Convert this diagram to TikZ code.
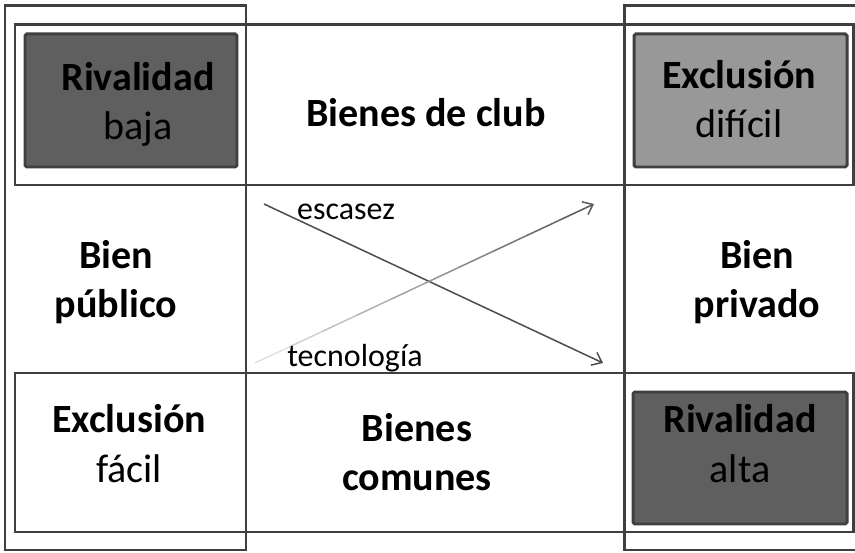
\documentclass[tikz,border=0pt]{standalone}
\usepackage{fontspec}
\setmainfont{Carlito}
\usetikzlibrary{positioning,calc,arrows.meta}
\definecolor{frameGray}{HTML}{3F3F3F}
\definecolor{darkFill}{HTML}{5F5F5F}
\definecolor{lightFill}{HTML}{989898}
\tikzset{
  frame/.style={draw=frameGray,line width=1.7pt},
  greybox/.style={draw=frameGray,line width=1.7pt,rounded corners=1pt},
  big/.style={font=\fontsize{22.8}{27.9}\selectfont,align=center,anchor=base},
  small/.style={font=\fontsize{18.2}{22}\selectfont,anchor=base},
  trend/.style={line width=0.85pt,-{Straight Barb[length=5pt,width=8pt]}},
}
\begin{document}
\begin{tikzpicture}[x=0.02cm,y=-0.02cm]
  \useasboundingbox (0,0) rectangle (855,553);
  \clip (0,0) rectangle (855,553);

  % tall columns and horizontal bands
  \draw[frame] (5,6) rectangle (246,550);
  \draw[frame] (624,6) rectangle (870,550);
  \draw[frame] (15,25) rectangle (853,185);
  \draw[frame] (15,373) rectangle (853,532);

  % grey boxes
  \draw[greybox,fill=darkFill] (25,34) rectangle (237,167);
  \draw[greybox,fill=lightFill] (634,34) rectangle (847,167);
  \draw[greybox,fill=darkFill] (633,392) rectangle (847,524);

  % base anchor = baseline of the last line
  \node[big] (rivBaja) at (138,140) {\textbf{Rivalidad}\\baja};
  \node[big] (exclDificil) at (739,138) {\textbf{Exclusión}\\difícil};
  \node[big] (exclFacil) at (129,482) {\textbf{Exclusión}\\fácil};
  \node[big] (rivAlta) at (740,482) {\textbf{Rivalidad}\\alta};

  \node[big] (club) at (426,127) {\textbf{Bienes de club}};
  \node[big] (publico) at (116,318) {\textbf{Bien}\\\textbf{público}};
  \node[big] (privado) at (757,318) {\textbf{Bien}\\\textbf{privado}};
  \node[big] (comunes) at (417,491) {\textbf{Bienes}\\\textbf{comunes}};

  % crossing arrows
  \coordinate (escA) at (264,204);
  \coordinate (escB) at (603,363);
  \coordinate (tecA) at (255,363);
  \coordinate (tecB) at (594,204);
  \draw[trend,draw=black!70] (escA) -- (escB);
  \foreach \k [evaluate=\k as \shade using 12+6*\k] in {0,...,8}
    \draw[line width=0.85pt,draw=black!\shade] ($(tecA)!\k/10!(tecB)$) -- ($(tecA)!\k/10+0.1!(tecB)$);
  \draw[trend,draw=black!65] ($(tecA)!0.9!(tecB)$) -- (tecB);

  \node[small] (escasez) at (346,220) {escasez};
  \node[small] (tecnologia) at (355,367) {tecnología};
\end{tikzpicture}
\end{document}
